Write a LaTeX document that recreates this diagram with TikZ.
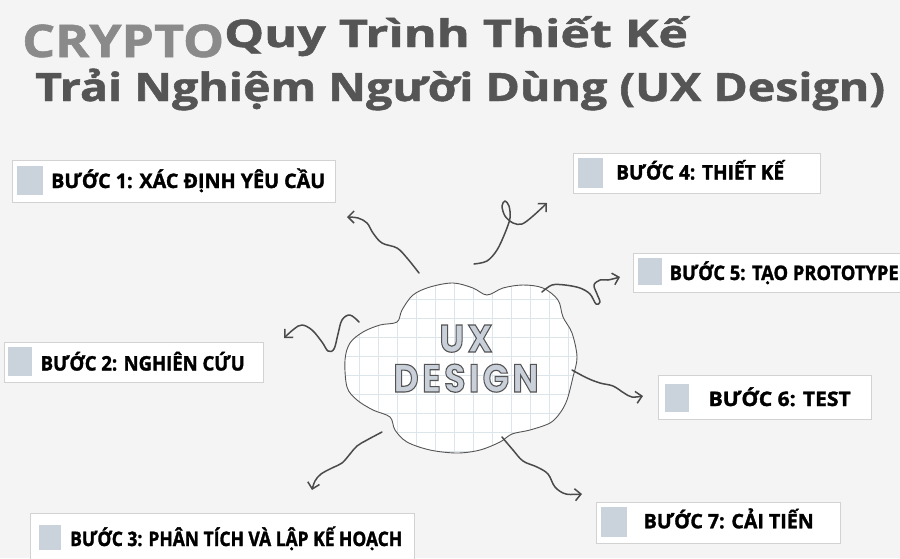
\documentclass[tikz,border=0pt]{standalone}
\usepackage{fontspec}
\usepackage{graphicx}
\usetikzlibrary{arrows.meta}
\newfontfamily\titlefont{Open Sans}[FakeBold=1.2]
\newfontfamily\stepfont{Open Sans}[FakeBold=1.6]
\newfontfamily\uxfont{Poppins}[LetterSpace=10]
\definecolor{bg}{HTML}{F4F4F4}
\definecolor{titlegrey}{HTML}{555555}
\definecolor{cryptogrey}{HTML}{8A8A8A}
\definecolor{boxline}{HTML}{D2D2D2}
\definecolor{sqfill}{HTML}{CAD2DC}
\definecolor{arrowgrey}{HTML}{4A4A4A}
\definecolor{gridc}{HTML}{DCE6EA}
\definecolor{uxfill}{HTML}{C9D0D9}
\newsavebox\fitbox
\newdimen\fitdim
\newcommand\fitto[2]{\sbox\fitbox{#2}\fitdim=\wd\fitbox\pgfmathsetmacro\fitr{#1/\fitdim}\scalebox{\fitr}[1]{\usebox\fitbox}}
\newcommand\outlined[1]{\color{uxfill}\special{pdf:literal direct 0.33 0.33 0.33 RG 1.1 w 2 Tr}#1\special{pdf:literal direct 0 Tr}}
\tikzset{
  stepbox/.style={draw=boxline, line width=0.8pt, fill=white, anchor=north west, inner sep=0pt},
  stepsq/.style={fill=sqfill, anchor=north west, inner sep=0pt},
  steptext/.style={anchor=base west, inner sep=0pt, text=black, font=\stepfont\bfseries\fontsize{20}{20}\selectfont},
  flow/.style={draw=arrowgrey, line width=1.5pt, line cap=round, line join=round,
    -{Straight Barb[length=6pt,width=12pt,line width=1.5pt]}},
}
\begin{document}
\begin{tikzpicture}[x=1pt,y=-1pt]
\useasboundingbox (0,0) rectangle (900,558);
\fill[bg] (0,0) rectangle (900,558);

% Title
\node[anchor=base west, inner sep=0pt, text=titlegrey, font=\titlefont\bfseries\fontsize{38}{38}\selectfont] (t1) at (224,47) {\fitto{464}{Quy Trình Thiết Kế}};
\node[anchor=base west, inner sep=0pt, text=cryptogrey, font=\titlefont\bfseries\fontsize{45}{45}\selectfont] (crypto) at (22,57) {\fitto{202}{CRYPTO}};
\node[anchor=base west, inner sep=0pt, text=titlegrey, font=\titlefont\bfseries\fontsize{39}{39}\selectfont] (t2) at (35,101) {\fitto{850}{Trải Nghiệm Người Dùng (UX Design)}};

% Cloud
\def\cloudpath{plot[smooth cycle, tension=0.55] coordinates {
 (345,360) (350,343) (363,332) (380,325) (397,322)
 (402,310) (413,295) (430,287) (453,283) (473,288) (487,295)
 (503,288) (523,285) (543,288) (558,300) (563,317)
 (572,333) (577,357) (573,377) (567,400) (560,413)
 (550,423) (530,430) (512,434)
 (500,442) (480,450) (457,453) (430,450) (407,442) (395,430) (390,417)
 (373,410) (357,400) (347,387)}}
\fill[white] \cloudpath;
\begin{scope}
\clip \cloudpath;
\foreach \gx in {0,...,13} {\draw[gridc, line width=0.6pt] (340+\gx*19,270) -- (340+\gx*19,470);}
\foreach \gy in {0,...,10} {\draw[gridc, line width=0.6pt] (330,280+\gy*19) -- (600,280+\gy*19);}
\end{scope}
\draw[titlegrey, line width=0.9pt] \cloudpath;
\node[anchor=base, inner sep=0pt] (ux) at (466,352) {\resizebox{53pt}{27pt}{\uxfont\bfseries\fontsize{38}{38}\selectfont\outlined{UX}}};
\node[anchor=base, inner sep=0pt] (design) at (466,392) {\resizebox{145pt}{28pt}{\uxfont\bfseries\fontsize{38}{38}\selectfont\outlined{DESIGN}}};
\coordinate (cloud) at (460,365);

% Step boxes
\node[stepbox, minimum width=322.5pt, minimum height=42pt] (b1) at (12,160) {};
\node[stepsq, minimum width=26pt, minimum height=29pt] (s1) at (17,166) {};
\node[steptext] (l1) at (51,188) {\fitto{274}{BƯỚC 1: XÁC ĐỊNH YÊU CẦU}};

\node[stepbox, minimum width=246.5pt, minimum height=40pt] (b4) at (573,153) {};
\node[stepsq, minimum width=24.5pt, minimum height=29.5pt] (s4) at (578,158) {};
\node[steptext] (l4) at (616,179.5) {\fitto{168}{BƯỚC 4: THIẾT KẾ}};

\node[stepbox, minimum width=280pt, minimum height=39pt] (b5) at (633,253) {};
\node[stepsq, minimum width=23.5pt, minimum height=27pt] (s5) at (638,258) {};
\node[steptext] (l5) at (669.5,280) {\fitto{229}{BƯỚC 5: TẠO PROTOTYPE}};

\node[stepbox, minimum width=259pt, minimum height=40pt] (b2) at (4,341.5) {};
\node[stepsq, minimum width=24.5pt, minimum height=28.5pt] (s2) at (7.5,347) {};
\node[steptext] (l2) at (40.5,370.5) {\fitto{204}{BƯỚC 2: NGHIÊN CỨU}};

\node[stepbox, minimum width=213pt, minimum height=44pt] (b6) at (658,375) {};
\node[stepsq, minimum width=24.5pt, minimum height=28.5pt] (s6) at (664.5,383.5) {};
\node[steptext] (l6) at (708.5,406) {\fitto{142}{BƯỚC 6: TEST}};

\node[stepbox, minimum width=244pt, minimum height=41pt] (b7) at (596,501.5) {};
\node[stepsq, minimum width=26pt, minimum height=29.5pt] (s7) at (601,507) {};
\node[steptext] (l7) at (643.5,528.3) {\fitto{170}{BƯỚC 7: CẢI TIẾN}};

\node[stepbox, minimum width=384pt, minimum height=50pt] (b3) at (29.5,512.5) {};
\node[stepsq, minimum width=22.5pt, minimum height=24.5pt] (s3) at (38.5,525) {};
\node[steptext] (l3) at (70,546) {\fitto{332}{BƯỚC 3: PHÂN TÍCH VÀ LẬP KẾ HOẠCH}};

% Connectors (free hand-drawn arrows)
\coordinate (a1s) at (419,273); \coordinate (a1e) at (347,217);
\draw[flow] plot[smooth, tension=0.6] coordinates {(a1s) (407,258) (397,248) (382,243) (373,233) (367,223) (358,218) (a1e)};

\coordinate (a4s) at (474,264); \coordinate (a4e) at (547,203);
\draw[flow] plot[smooth, tension=0.55] coordinates {(a4s) (487,261) (497,250) (505,233) (510,218) (509,206) (505,201) (502,206) (505,216) (513,223) (522,224) (533,216) (a4e)};

\coordinate (a5s) at (542,292); \coordinate (a5e) at (620,277);
\draw[flow] plot[smooth, tension=0.55] coordinates {(a5s) (552,285) (565,285) (580,288) (590,294) (596,304) (600,302) (597,294) (594,285) (600,280) (608,280) (a5e)};

\coordinate (a2s) at (359,322); \coordinate (a2e) at (284,338);
\draw[flow] plot[smooth, tension=0.6] coordinates {(a2s) (350,315) (342,320) (338,334) (334,349) (328,351) (322,342) (312,330) (302,325) (294,329) (a2e)};

\coordinate (a3s) at (382,432); \coordinate (a3e) at (312,490);
\draw[flow] plot[smooth, tension=0.6] coordinates {(a3s) (367,440) (357,446) (350,454) (342,463) (332,468) (321,474) (315,481) (a3e)};

\coordinate (a6s) at (572,370); \coordinate (a6e) at (643,396);
\draw[flow] plot[smooth, tension=0.6] coordinates {(a6s) (587,378) (600,383) (613,386) (624,393) (632,397) (a6e)};

\coordinate (a7s) at (502,437); \coordinate (a7e) at (582,494);
\draw[flow] plot[smooth, tension=0.6] coordinates {(a7s) (513,450) (523,461) (537,467) (548,474) (555,487) (566,494) (a7e)};
\end{tikzpicture}
\end{document}
